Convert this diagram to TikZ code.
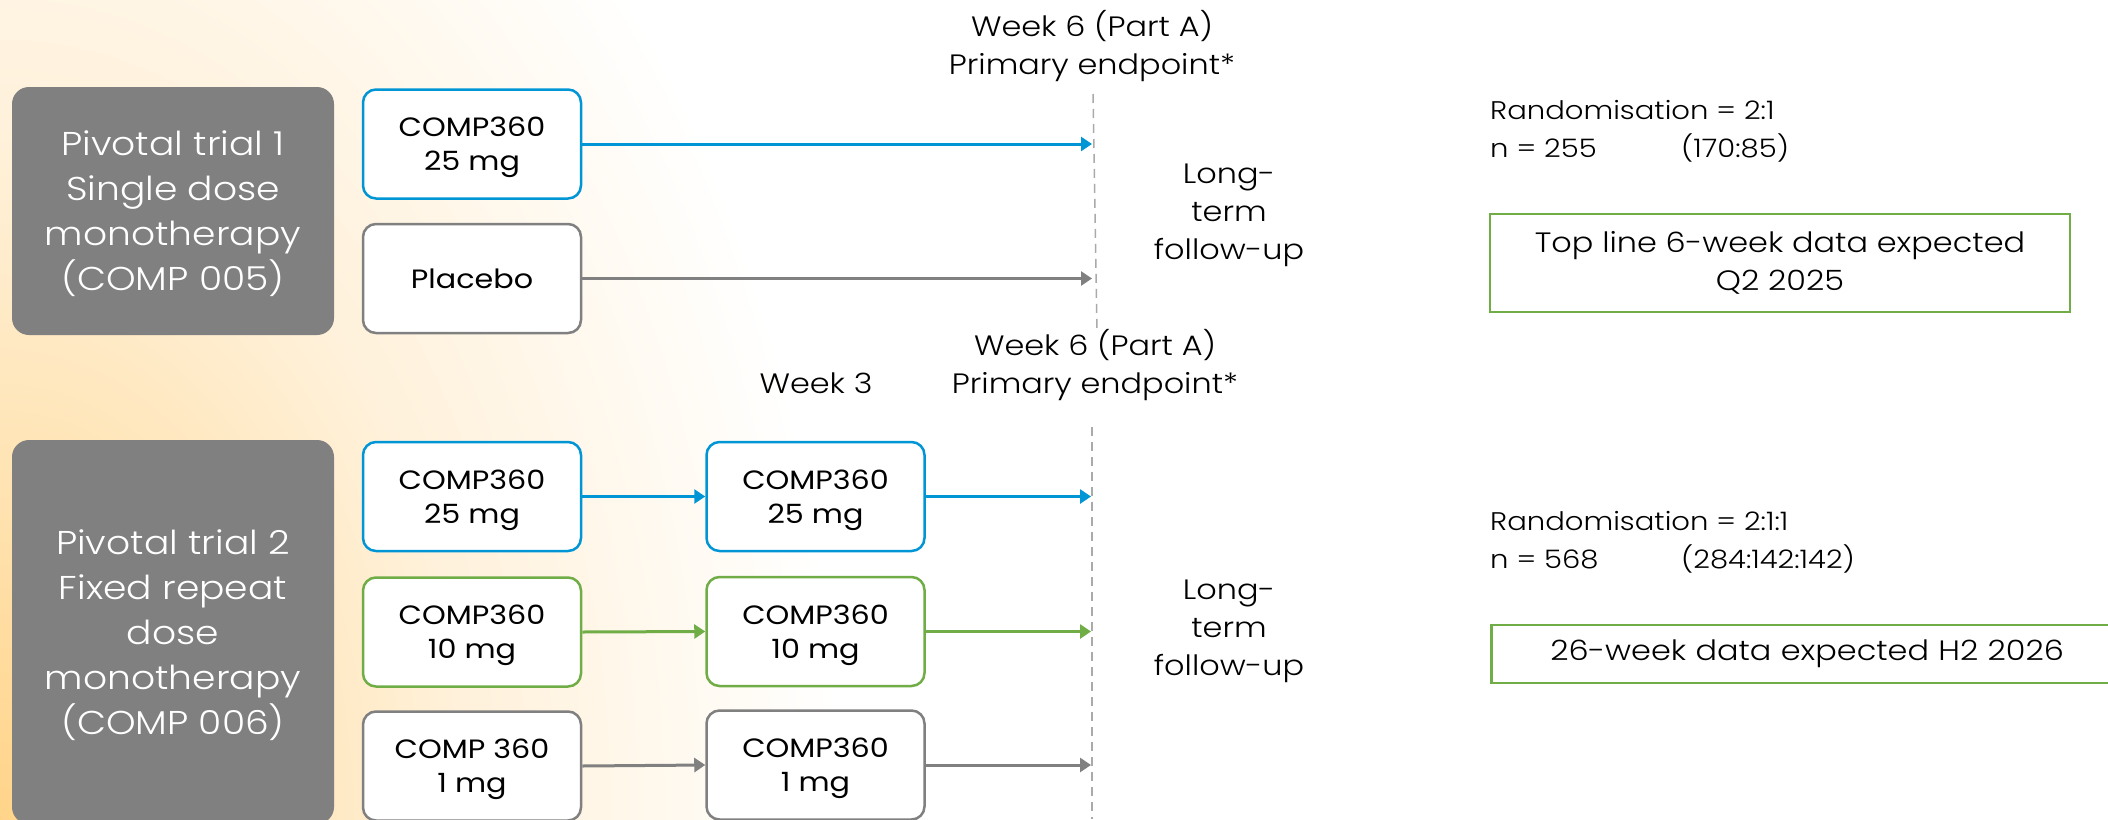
\documentclass[tikz,border=0pt]{standalone}
\usepackage{fontspec}
\setmainfont{Poppins Light}[FakeStretch=1.14]
\newfontfamily\dosefont{Poppins}[FakeStretch=1.14]
\usetikzlibrary{arrows.meta}
\definecolor{cblue}{RGB}{0,150,214}
\definecolor{cgreen}{RGB}{112,173,71}
\definecolor{cgray}{RGB}{128,128,128}
\definecolor{dgray}{RGB}{170,170,170}
\definecolor{peach}{RGB}{255,212,138}
\definecolor{peachA}{RGB}{255,226,175}
\definecolor{peachB}{RGB}{255,241,218}
\pgfdeclareradialshading{bgshade}{\pgfpoint{0bp}{0bp}}{color(0bp)=(peach); color(5bp)=(peachA); color(11bp)=(peachB); color(20bp)=(white); color(50bp)=(white)}
\tikzset{
  trial/.style={fill=cgray, rounded corners=17pt, text=white, align=center,
    font=\fontsize{33}{45}\selectfont, minimum width=322pt, inner sep=0pt, text depth=-3pt},
  dose/.style={draw=#1, fill=white, line width=2.5pt, rounded corners=13pt,
    minimum width=218pt, minimum height=109pt, align=center, inner sep=0pt,
    font=\dosefont\fontsize{26.5}{34}\selectfont, text depth=-1pt},
  lbl/.style={align=center, font=\fontsize{28}{38}\selectfont, inner sep=0pt},
  rlbl/.style={align=left, anchor=west, font=\fontsize{25.5}{38}\selectfont, inner sep=0pt},
  gbox/.style={draw=cgreen, line width=2.5pt, fill=white, inner sep=0pt,
    align=center, font=\fontsize{28}{38}\selectfont},
  conn/.style={draw=#1, line width=3pt, -{Triangle[length=11pt,width=14pt]}},
  dashline/.style={draw=dgray, line width=1.5pt, dash pattern=on 9pt off 6pt}
}
\begin{document}
\begin{tikzpicture}[x=1pt,y=-1pt]
\useasboundingbox (0,0) rectangle (2108,819);
\clip (0,0) rectangle (2108,819);
\fill[white] (0,0) rectangle (2108,819);
\shade[shading=bgshade] (0,819) ellipse (1050 and 1550);
% trial boxes
\node[trial, minimum height=248pt] (tr1) at (173,211) {Pivotal trial 1\\Single dose\\monotherapy\\(COMP 005)};
\node[trial, minimum height=384pt] (tr2) at (173,632) {Pivotal trial 2\\Fixed repeat\\dose\\monotherapy\\(COMP 006)};
% trial 1 doses
\node[dose=cblue] (a1) at (472,144) {COMP360\\25 mg};
\node[dose=cgray] (b1) at (472,278.5) {Placebo};
% trial 2 doses
\node[dose=cblue] (a2) at (472,496.5) {COMP360\\25 mg};
\node[dose=cgreen] (b2) at (472,632) {COMP360\\10 mg};
\node[dose=cgray] (c2) at (472,766) {COMP 360\\1 mg};
\node[dose=cblue] (a3) at (815.5,496.5) {COMP360\\25 mg};
\node[dose=cgreen] (b3) at (815.5,631.5) {COMP360\\10 mg};
\node[dose=cgray] (c3) at (815.5,765) {COMP360\\1 mg};
% dashed lines
\coordinate (d1t) at (1093,94);
\coordinate (d1b) at (1097,333);
\coordinate (d2t) at (1092,427);
\coordinate (d2b) at (1092,819);
\draw[dashline] (d1t) -- (d1b);
\draw[dashline] (d2t) -- (d2b);
% arrow ends
\coordinate (ea1) at (1092,144);
\coordinate (eb1) at (1092,278.5);
\coordinate (ea3) at (1091,496.5);
\coordinate (eb3) at (1091,631.5);
\coordinate (ec3) at (1091,765);
\draw[conn=cblue] (a1.east) -- (ea1);
\draw[conn=cgray] (b1.east) -- (eb1);
\draw[conn=cblue] (a2.east) -- (a3.west);
\draw[conn=cgreen] (b2.east) -- (b3.west);
\draw[conn=cgray] (c2.east) -- (c3.west);
\draw[conn=cblue] (a3.east) -- (ea3);
\draw[conn=cgreen] (b3.east) -- (eb3);
\draw[conn=cgray] (c3.east) -- (ec3);
% labels
\node[lbl] (w6a) at (1092,46) {Week 6 (Part A)\\Primary endpoint*};
\node[lbl] (lf1) at (1229,215) {Long-\\term\\follow-up};
\node[lbl] (w6b) at (1095,365) {Week 6 (Part A)\\Primary endpoint*};
\node[lbl] (w3) at (816,383) {Week 3};
\node[lbl] (lf2) at (1229,631) {Long-\\term\\follow-up};
% right side
\node[rlbl] (r1) at (1490,131) {Randomisation = 2:1\\\makebox[191pt][l]{n = 255}(170:85)};
\node[gbox, minimum width=580pt, minimum height=98pt] (g1) at (1780,263) {Top line 6-week data expected\\Q2 2025};
\node[rlbl] (r2) at (1490,542) {Randomisation = 2:1:1\\\makebox[191pt][l]{n = 568}(284:142:142)};
\node[gbox, anchor=west, minimum height=58pt, text width=600pt, inner xsep=59pt, align=left] (g2) at (1490,654) {26-week data expected H2 2026};
\end{tikzpicture}
\end{document}
